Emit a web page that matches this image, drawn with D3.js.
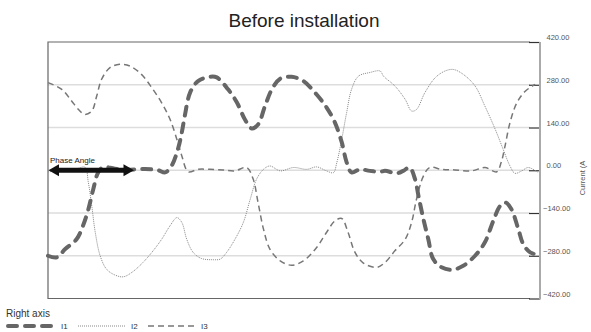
<!DOCTYPE html>
<html><head><meta charset="utf-8">
<script src="https://cdn.jsdelivr.net/npm/d3@7"></script>
<style>body{margin:0;background:#fff;} svg{display:block;font-family:"Liberation Sans",Arial,sans-serif;}</style>
</head><body>
<svg id="c" width="591" height="332"></svg>
<script>
const title = "Before installation";
const yTicks = [420, 280, 140, 0, -140, -280, -420];
const axisTitle = "Current (A";
const seriesNames = ["I1", "I2", "I3"];

const i1T = [0,1.8,3.5,5.8,7.1,8.2,9.2,10.2,11.2,13.6,16.7,19.7,22.4,23.8,25.1,26.4,27.2,27.8,28.9,30.5,32.9,34.3,36.6,38.4,40.0,41.4,42.7,44.1,45.5,47.2,49.5,51.9,54.6,56.6,58.3,59.7,60.7,61.7,63.4,65.4,67.5,68.5,70.9,72.2,73.5,74.6,75.3,76.3,77.3,78.3,80.0,82.1,84.4,86.8,88.8,90.5,91.9,93.0,94.2,95.6,96.6,98.0,100];
const i1V = [-280,-285,-258,-226,-182,-128,-62,-7,10,5,2,4,0,-7,14,69,124,178,255,292,306,304,265,222,167,137,150,210,265,300,306,292,248,206,157,92,26,-7,3,-2,-5,-2,-10,-2,9,-29,-84,-160,-226,-291,-318,-326,-313,-280,-236,-166,-117,-106,-128,-193,-242,-269,-278];

const i2T = [0,2.4,5.5,7.5,8.2,8.9,9.6,10.6,11.9,13.6,15.3,17.0,19.0,21.1,23.1,24.8,26.2,27.2,28.2,29.5,31.2,33.6,35.0,36.3,38.0,39.7,41.1,42.4,43.8,45.1,47.2,49.9,52.6,54.6,56.6,58.0,58.7,59.7,60.7,61.7,63.1,65.4,67.5,68.2,70.5,72.6,73.9,74.9,76.6,78.7,80.7,82.4,84.4,86.8,88.8,90.9,92.5,93.9,94.9,96.3,97.6,99.7];
const i2V = [-5,-2,3,10,-40,-117,-203,-280,-324,-343,-349,-335,-307,-269,-226,-182,-155,-171,-226,-269,-289,-293,-291,-269,-226,-171,-95,-29,3,14,-2,9,3,11,-2,-8,25,101,189,265,308,320,325,308,276,232,194,199,254,303,325,330,314,276,210,134,69,14,-10,-2,9,-8];

const i3T = [0,2.8,4.8,6.2,7.5,8.9,9.9,10.9,12.6,14.6,16.7,19.0,21.1,23.1,24.8,26.2,27.2,28.5,30.5,32.9,35.6,38.0,40.4,41.7,42.7,43.8,45.1,47.2,49.5,51.9,54.6,56.6,58.3,59.7,61.0,62.4,64.1,66.8,68.5,70.5,72.6,73.9,74.9,76.3,77.6,80.0,82.7,86.1,88.8,91.2,92.1,92.9,93.9,95.3,97.0,99.0];
const i3V = [287,265,227,199,183,194,243,298,336,347,341,314,270,221,167,101,47,-5,3,3,1,-2,9,-29,-106,-193,-258,-297,-311,-297,-253,-204,-166,-158,-204,-269,-304,-318,-302,-264,-226,-171,-95,-19,9,3,1,-2,9,-5,25,80,156,221,259,281];

const svg = d3.select("#c");
const L = 48, R = 540, T = 42, B = 298.5;
const x = d3.scaleLinear().domain([0, 100]).range([L, R]);
const y = d3.scaleLinear().domain([-420, 420]).range([B, T]);

svg.append("text").attr("x", 304).attr("y", 27).attr("text-anchor", "middle")
  .attr("font-size", 19).attr("fill", "#222").text(title);

// grid
svg.append("g").selectAll("line").data(yTicks.filter(d => Math.abs(d) < 420)).join("line")
  .attr("x1", L).attr("x2", R - 10).attr("y1", d => y(d)).attr("y2", d => y(d))
  .attr("stroke", "#ddd").attr("stroke-width", 1.5);

// frame
svg.append("path").attr("d", `M${R - 10},${T} H${L} V${B} H${R - 10}`)
  .attr("fill", "none").attr("stroke", "#666").attr("stroke-width", 1.2);

// right axis
const ax = svg.append("g").attr("transform", `translate(${R},0)`)
  .call(d3.axisLeft(y).tickValues(yTicks).tickSize(11).tickFormat(""));
ax.select(".domain").remove();
ax.selectAll(".tick line").attr("stroke", "#333").attr("stroke-width", 1.2);
svg.append("line").attr("x1", R).attr("x2", R).attr("y1", T).attr("y2", B + 1)
  .attr("stroke", "#aaa").attr("stroke-width", 2);
svg.append("g").selectAll("text").data(yTicks).join("text")
  .attr("x", d => d < 0 ? 543 : 546.5).attr("y", d => y(d) - 2)
  .attr("font-size", 7.5).attr("fill", "#555").text(d => d3.format(".2f")(d));
svg.append("text").attr("transform", "translate(585,178) rotate(-90)")
  .attr("text-anchor", "middle").attr("font-size", 7.5).attr("fill", "#555").text(axisTitle);

const line = d3.line().x(d => x(d[0])).y(d => y(d[1])).curve(d3.curveCatmullRom.alpha(0.5));
const zip = (a, b) => a.map((t, i) => [t, b[i]]);

const styles = [
  {stroke: "#666", w: 4, dash: "9,8", cap: "round"},
  {stroke: "#888", w: 1, dash: "1,1", cap: "butt"},
  {stroke: "#777", w: 1.5, dash: "6,4", cap: "butt"}
];
const seriesData = [zip(i1T, i1V), zip(i2T, i2V), zip(i3T, i3V)];
[1, 2, 0].forEach(si => {
  const s = styles[si];
  svg.append("path").attr("d", line(seriesData[si])).attr("fill", "none")
    .attr("stroke", s.stroke).attr("stroke-width", s.w).attr("stroke-dasharray", s.dash)
    .attr("stroke-linecap", s.cap);
});

// phase angle arrow
const ay = y(0);
svg.append("line").attr("x1", 56).attr("x2", 126).attr("y1", ay).attr("y2", ay)
  .attr("stroke", "#111").attr("stroke-width", 5);
svg.append("path").attr("d", `M48.5,${ay} L59,${ay - 6} L59,${ay + 6} Z`).attr("fill", "#111");
svg.append("path").attr("d", `M134,${ay} L123.5,${ay - 6} L123.5,${ay + 6} Z`).attr("fill", "#111");
svg.append("text").attr("x", 50).attr("y", ay - 7).attr("font-size", 8).attr("fill", "#222").text("Phase Angle");

// legend
svg.append("text").attr("x", 6).attr("y", 317).attr("font-size", 10).attr("fill", "#333").text("Right axis");
const lx = [8, 78, 148];
seriesNames.forEach((n, i) => {
  const s = styles[i];
  svg.append("line").attr("x1", lx[i]).attr("x2", lx[i] + 47).attr("y1", 326).attr("y2", 326)
    .attr("stroke", s.stroke).attr("stroke-width", s.w).attr("stroke-dasharray", s.dash)
    .attr("stroke-linecap", s.cap);
  svg.append("text").attr("x", lx[i] + 53).attr("y", 329).attr("font-size", 8).attr("fill", "#333").text(n);
});
</script>
</body></html>
